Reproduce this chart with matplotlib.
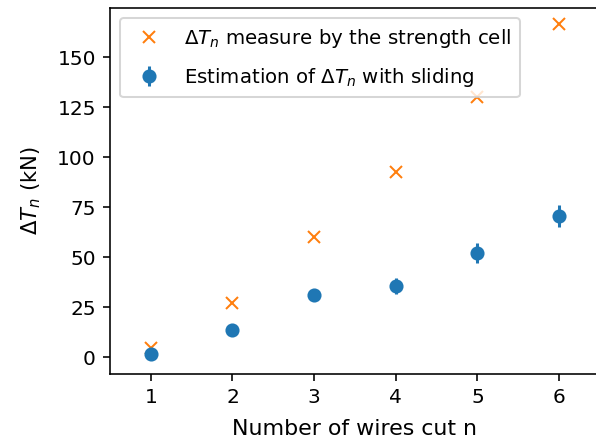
import numpy as np
import matplotlib
matplotlib.use('Agg')
import matplotlib.pyplot as plt

# number of wires cut
n_cut = [1, 2, 3, 4, 5, 6]
# measured by the strength cell (kN)
dT_measured = [4.5, 27, 60, 92.5, 130, 166.5]
# estimated with sliding (kN) and its uncertainty
dT_sliding = [1.5, 13.5, 31, 35.5, 52, 70.5]
dT_sliding_err = [2, 2.5, 3, 3.8, 5, 5.5]

DPI = 145
fig = plt.figure(figsize=(596 / DPI, 442 / DPI), dpi=DPI)
ax = fig.add_axes([0.1846, 0.1538, 0.822, 0.828])

ax.plot(n_cut, dT_measured, 'x', color='C1',
        label=r'$\Delta T_n$ measure by the strength cell')
ax.errorbar(n_cut, dT_sliding, yerr=dT_sliding_err, fmt='o', color='C0',
            label=r'Estimation of $\Delta T_n$ with sliding')

ax.set_xlim(0.5, 6.5)
ax.set_ylim(-8.5, 174.5)
ax.set_xticks(n_cut)
ax.spines['right'].set_visible(False)
ax.set_xlabel('Number of wires cut n', fontsize=11, labelpad=6)
ax.set_ylabel(r'$\Delta T_n$ (kN)', fontsize=10.5, labelpad=7)
ax.legend(loc='upper left', fontsize=9.8, labelspacing=0.8, borderpad=0.45)

fig.savefig('out.png', dpi=DPI)
